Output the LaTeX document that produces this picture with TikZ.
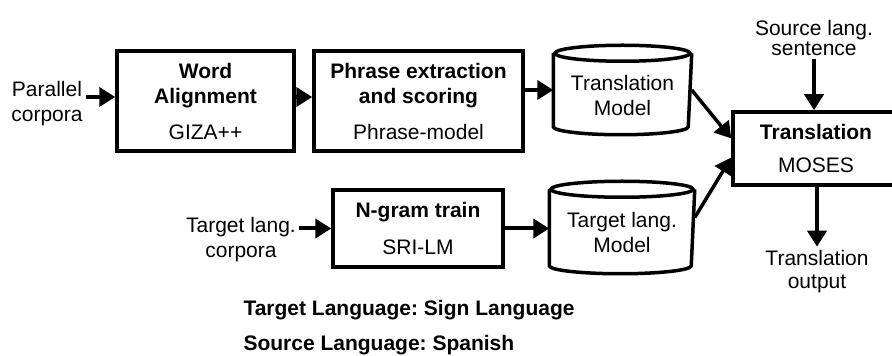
\documentclass[tikz,border=0pt]{standalone}
\usepackage{fontspec}
\setmainfont{Liberation Sans}
\usetikzlibrary{arrows.meta,positioning}
\frenchspacing
\tikzset{
  blockbox/.style={draw, line width=3.5pt, inner sep=0pt, align=center},
  drumbody/.style={inner sep=0pt, outer sep=1.75pt},
  plaintext/.style={align=center},
  flow/.style={line width=4pt, -{Triangle[length=16pt,width=19pt]}},
}
% database drum drawn round an empty node: #1 node, #2 half width
\newcommand{\drawdrum}[2]{%
  \draw[line width=3.5pt] ([yshift=-8pt]#1.north) ellipse [x radius=#2, y radius=8pt];
  \draw[line width=3.5pt] ([yshift=-8pt]#1.north west) -- ([yshift=8pt]#1.south west)
    arc[start angle=180, end angle=360, x radius=#2, y radius=8pt] -- ([yshift=-8pt]#1.north east);}
\begin{document}
\begin{tikzpicture}[x=1pt, y=1pt, font=\fontsize{21}{25}\selectfont]
  \useasboundingbox (0,0) rectangle (892,356);
  % --- translation model training ---
  \node[plaintext] (par) at (47,252) {Parallel\\corpora};
  \node[blockbox, minimum width=177pt, minimum height=100pt] (wa) at (205.5,255)
    {\textbf{Word}\\\textbf{Alignment}\\[11pt]GIZA++};
  \node[blockbox, minimum width=209pt, minimum height=100pt] (pe) at (418.5,255)
    {\textbf{Phrase extraction}\\\textbf{and scoring}\\[11pt]Phrase-model};
  \node[drumbody, minimum width=135pt, minimum height=86pt] (tm) at (622.5,266) {};
  \drawdrum{tm}{67.5pt}
  \node[plaintext] (tmtext) at ([yshift=-5pt]tm.center) {Translation\\Model};
  % --- language model training ---
  \node[plaintext] (tc) at (241,116.5) {Target lang.\\corpora};
  \node[blockbox, minimum width=170pt, minimum height=77pt] (ng) at (418,127.5)
    {\textbf{N-gram train}\\[12pt]SRI-LM};
  \node[drumbody, minimum width=142pt, minimum height=89pt] (tlm) at (622,128.5) {};
  \drawdrum{tlm}{71pt}
  \node[plaintext] (tlmtext) at ([yshift=-5pt]tlm.center) {Target lang.\\Model};
  % --- decoder ---
  \node[blockbox, minimum width=166pt, minimum height=73pt] (tr) at (816,207.5)
    {\textbf{Translation}\\[8pt]MOSES};
  \node[plaintext, font=\fontsize{21}{20}\selectfont] (src) at (814,318) {Source lang.\\sentence};
  \node[plaintext, font=\fontsize{21}{23}\selectfont] (out) at (817,84.5) {Translation\\output};
  % --- languages ---
  \node[anchor=west] (tgtlang) at (240,46) {\textbf{Target Language: Sign Language}};
  \node[anchor=west] (srclang) at (240,11) {\textbf{Source Language: Spanish}};
  % --- connectors ---
  \draw[flow] ([yshift=4pt]wa.west -| par.east) -- ([yshift=4pt]wa.west);
  \draw[flow] ([yshift=4pt]wa.east) -- ([yshift=4pt]pe.west);
  \draw[flow] (tm.west -| pe.east) -- (tm.west);
  \draw[flow] (tc.east |- ng.west) -- (ng.west);
  \draw[flow] (ng.east) -- (ng.east -| tlm.west);
  \draw[flow, line width=3.5pt] (tm.east) -- ([yshift=10pt]tr.west);
  \draw[flow, line width=3.5pt] ([yshift=10pt]tlm.east) -- ([yshift=-9pt]tr.west);
  \draw[flow] (src.south) -- (src.south |- tr.north);
  \draw[flow] (tr.south -| out.north) -- (out.north);
\end{tikzpicture}
\end{document}
